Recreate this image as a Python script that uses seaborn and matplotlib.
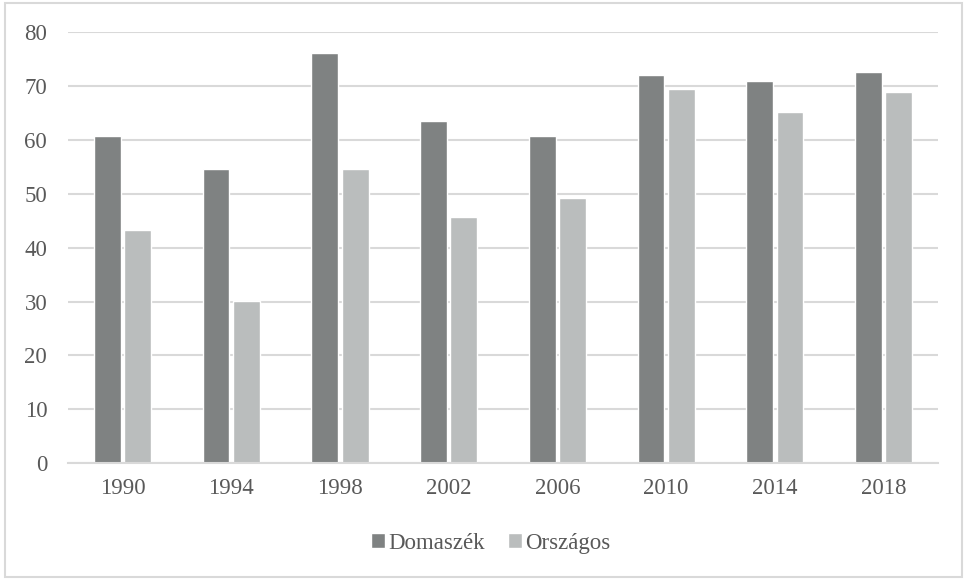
import pandas as pd
import matplotlib.pyplot as plt
import seaborn as sns
from matplotlib.patches import Rectangle

# Adatok
years = ['1990', '1994', '1998', '2002', '2006', '2010', '2014', '2018']
domaszek = [60.8, 54.6, 76.1, 63.6, 60.8, 72.1, 70.9, 72.6]
orszagos = [43.3, 30.1, 54.6, 45.7, 49.3, 69.5, 65.2, 69.0]
series = ['Domaszék', 'Országos']

df = pd.DataFrame({
    'Év': years * 2,
    'Érték': domaszek + orszagos,
    'Sorozat': [series[0]] * len(years) + [series[1]] * len(years),
})

sns.set_style("white")
plt.rcParams['font.family'] = ['Liberation Serif', 'DejaVu Serif']
text_col = '#595959'
grid_col = '#d9d9d9'

fig = plt.figure(figsize=(9.65, 5.79), dpi=100)
ax = fig.add_axes([0.0705, 0.2003, 0.9015, 0.7436])

sns.barplot(data=df, x='Év', y='Érték', hue='Sorozat', order=years,
            palette=['#7f8282', '#babdbd'], width=0.56, gap=0.12,
            saturation=1, ax=ax, legend=True)

ax.set_ylim(0, 80)
ax.set_yticks(range(0, 81, 10))
ax.yaxis.grid(True, color=grid_col, linewidth=1.5)
ax.set_axisbelow(True)
for s in ['top', 'right', 'left']:
    ax.spines[s].set_visible(False)
ax.spines['bottom'].set_color(grid_col)
ax.spines['bottom'].set_linewidth(1.5)
ax.tick_params(axis='both', length=0, labelsize=16.5, colors=text_col)
ax.tick_params(axis='y', pad=15)
ax.tick_params(axis='x', pad=11)
ax.set_xlabel('')
ax.set_ylabel('')

leg = ax.legend(loc='center', bbox_to_anchor=(0.486, -0.186), ncol=2,
                frameon=False, fontsize=16.5, handlelength=0.6, handleheight=0.6,
                handletextpad=0.15, columnspacing=1.0)
for t in leg.get_texts():
    t.set_color(text_col)

# keret a kép körül
fig.patches.append(Rectangle((5 / 965, 2 / 579), 957 / 965, 574 / 579,
                             transform=fig.transFigure, fill=False,
                             edgecolor=grid_col, linewidth=1.5))

plt.savefig('out.png', dpi=100)
